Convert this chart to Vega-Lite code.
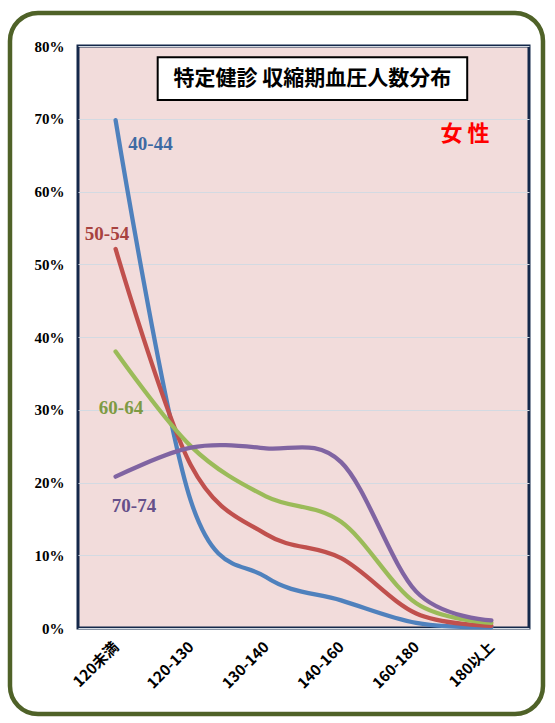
{
  "$schema": "https://vega.github.io/schema/vega-lite/v6.json",
  "width": 451,
  "height": 582,
  "autosize": {"type": "none"},
  "padding": {"left": 78, "top": 46, "right": 26, "bottom": 95},
  "background": "#ffffff",
  "config": {
    "view": {"fill": "#F2DCDB", "stroke": "#14284A", "strokeWidth": 3},
    "font": "Liberation Serif"
  },
  "data": {
    "values": [
      {"group": "40-44", "range": "120未満", "share": 0.698},
      {"group": "40-44", "range": "120-130", "share": 0.175},
      {"group": "40-44", "range": "130-140", "share": 0.070},
      {"group": "40-44", "range": "140-160", "share": 0.038},
      {"group": "40-44", "range": "160-180", "share": 0.007},
      {"group": "40-44", "range": "180以上", "share": 0.001},
      {"group": "50-54", "range": "120未満", "share": 0.521},
      {"group": "50-54", "range": "120-130", "share": 0.224},
      {"group": "50-54", "range": "130-140", "share": 0.129},
      {"group": "50-54", "range": "140-160", "share": 0.096},
      {"group": "50-54", "range": "160-180", "share": 0.020},
      {"group": "50-54", "range": "180以上", "share": 0.003},
      {"group": "60-64", "range": "120未満", "share": 0.380},
      {"group": "60-64", "range": "120-130", "share": 0.250},
      {"group": "60-64", "range": "130-140", "share": 0.181},
      {"group": "60-64", "range": "140-160", "share": 0.146},
      {"group": "60-64", "range": "160-180", "share": 0.034},
      {"group": "60-64", "range": "180以上", "share": 0.007},
      {"group": "70-74", "range": "120未満", "share": 0.208},
      {"group": "70-74", "range": "120-130", "share": 0.248},
      {"group": "70-74", "range": "130-140", "share": 0.247},
      {"group": "70-74", "range": "140-160", "share": 0.228},
      {"group": "70-74", "range": "160-180", "share": 0.050},
      {"group": "70-74", "range": "180以上", "share": 0.0105}
    ]
  },
  "resolve": {"scale": {"x": "independent"}},
  "layer": [
    {
      "data": {"values": [{}]},
      "mark": {"type": "rect", "fillOpacity": 0, "stroke": "#4F6228", "strokeWidth": 4.5, "cornerRadius": 28},
      "encoding": {
        "x": {"datum": -0.1508, "type": "quantitative", "scale": {"domain": [0, 1]}, "axis": null},
        "x2": {"datum": 1.031},
        "y": {"datum": 0.8454, "type": "quantitative", "title": null},
        "y2": {"datum": -0.1182}
      }
    },
    {
      "mark": {"type": "line", "interpolate": "cardinal", "strokeWidth": 4.3, "strokeCap": "round", "strokeJoin": "round"},
      "encoding": {
        "x": {
          "field": "range", "type": "ordinal", "sort": null,
          "scale": {"type": "point", "domain": ["120未満", "120-130", "130-140", "140-160", "160-180", "180以上"], "padding": 0.5},
          "axis": {"title": null, "labelAngle": -45, "labelAlign": "right", "labelBaseline": "middle", "ticks": false, "domain": false, "grid": false, "labelFont": "Noto Sans CJK JP", "labelFontSize": 15, "labelFontWeight": "bold", "labelColor": "#000000", "labelPadding": 16}
        },
        "y": {
          "field": "share", "type": "quantitative", "title": null,
          "scale": {"domain": [0, 0.8], "nice": false},
          "axis": {"values": [0, 0.1, 0.2, 0.3, 0.4, 0.5, 0.6, 0.7, 0.8], "format": ".0%", "ticks": false, "domain": false, "grid": true, "gridColor": "#D3DAE2", "gridWidth": 1, "labelFont": "Liberation Serif", "labelFontSize": 15, "labelFontWeight": "bold", "labelColor": "#000000", "labelPadding": 14}
        },
        "color": {
          "field": "group", "type": "nominal",
          "scale": {"domain": ["40-44", "50-54", "60-64", "70-74"], "range": ["#4F81BD", "#C0504D", "#9BBB59", "#8064A2"]},
          "legend": null
        },
        "detail": {"field": "group"}
      }
    },
    {
      "data": {"values": [{}]},
      "mark": {"type": "rect", "fill": "#ffffff", "stroke": "#000000", "strokeWidth": 2},
      "encoding": {
        "x": {"datum": 0.1767, "type": "quantitative", "scale": {"domain": [0, 1]}, "axis": null},
        "x2": {"datum": 0.8630},
        "y": {"datum": 0.7845, "type": "quantitative", "title": null},
        "y2": {"datum": 0.7258}
      }
    },
    {
      "data": {"values": [{}]},
      "mark": {"type": "text", "text": "特定健診 収縮期血圧人数分布", "font": "Noto Sans CJK JP", "fontSize": 21, "fontWeight": "bold", "color": "#000000", "align": "center", "baseline": "middle"},
      "encoding": {
        "x": {"datum": 0.5195, "type": "quantitative", "scale": {"domain": [0, 1]}, "axis": null},
        "y": {"datum": 0.7553, "type": "quantitative", "title": null}
      }
    },
    {
      "data": {"values": [{}]},
      "mark": {"type": "text", "text": "女 性", "font": "Noto Sans CJK JP", "fontSize": 22, "fontWeight": "bold", "color": "#FF0000", "align": "center", "baseline": "middle"},
      "encoding": {
        "x": {"datum": 0.8581, "type": "quantitative", "scale": {"domain": [0, 1]}, "axis": null},
        "y": {"datum": 0.6786, "type": "quantitative", "title": null}
      }
    },
    {
      "data": {"values": [{}]},
      "mark": {"type": "text", "text": "40-44", "font": "Liberation Serif", "fontSize": 19, "fontWeight": "bold", "color": "#3E6AA3", "align": "center", "baseline": "middle"},
      "encoding": {
        "x": {"datum": 0.1608, "type": "quantitative", "scale": {"domain": [0, 1]}, "axis": null},
        "y": {"datum": 0.6656, "type": "quantitative", "title": null}
      }
    },
    {
      "data": {"values": [{}]},
      "mark": {"type": "text", "text": "50-54", "font": "Liberation Serif", "fontSize": 19, "fontWeight": "bold", "color": "#A8423F", "align": "center", "baseline": "middle"},
      "encoding": {
        "x": {"datum": 0.0643, "type": "quantitative", "scale": {"domain": [0, 1]}, "axis": null},
        "y": {"datum": 0.5412, "type": "quantitative", "title": null}
      }
    },
    {
      "data": {"values": [{}]},
      "mark": {"type": "text", "text": "60-64", "font": "Liberation Serif", "fontSize": 19, "fontWeight": "bold", "color": "#7E9A43", "align": "center", "baseline": "middle"},
      "encoding": {
        "x": {"datum": 0.0953, "type": "quantitative", "scale": {"domain": [0, 1]}, "axis": null},
        "y": {"datum": 0.302, "type": "quantitative", "title": null}
      }
    },
    {
      "data": {"values": [{}]},
      "mark": {"type": "text", "text": "70-74", "font": "Liberation Serif", "fontSize": 19, "fontWeight": "bold", "color": "#65508A", "align": "center", "baseline": "middle"},
      "encoding": {
        "x": {"datum": 0.1242, "type": "quantitative", "scale": {"domain": [0, 1]}, "axis": null},
        "y": {"datum": 0.1673, "type": "quantitative", "title": null}
      }
    }
  ]
}
